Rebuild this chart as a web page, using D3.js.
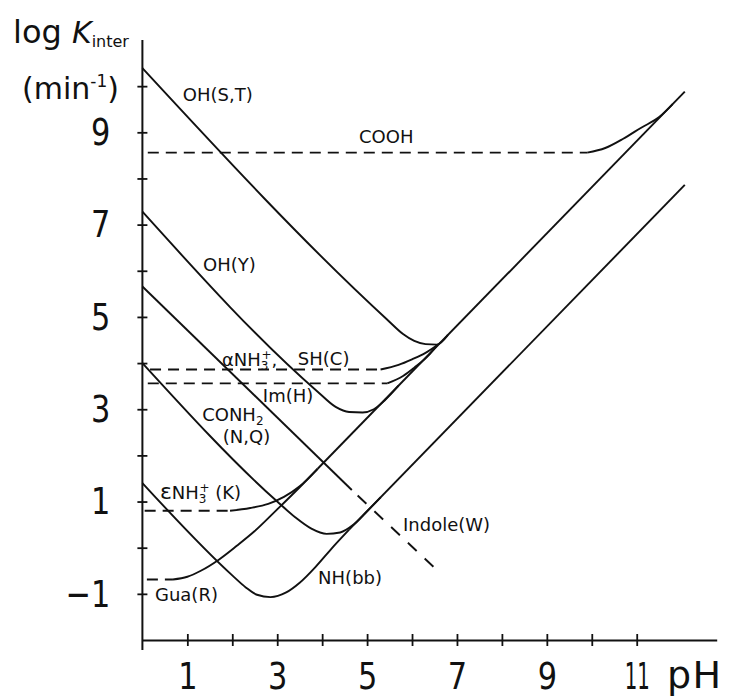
<!DOCTYPE html>
<html>
<head>
<meta charset="utf-8">
<script src="https://cdn.jsdelivr.net/npm/d3@7"></script>
<style>
  body { margin: 0; background: #fff; }
  svg text { font-family: "DejaVu Sans", sans-serif; fill: #111; }
</style>
</head>
<body>
<div id="chart"></div>
<script>
// Side chain / backbone exchange rates vs pH (log K_inter, min^-1)
// every series is a list of [pH, logK] pairs

// tick positions and the labelled ones
var xTicks = [1, 2, 3, 4, 5, 6, 7, 8, 9, 10, 11];
var xTickLabels = [1, 3, 5, 7, 9, 11];
var yTicks = [-1, 0, 1, 2, 3, 4, 5, 6, 7, 8, 9, 10];
var yTickLabels = [-1, 1, 3, 5, 7, 9];

// solid curves
var ohST = [[0, 10.39], [5.45, 4.94], [5.8, 4.63], [6.05, 4.48], [6.3, 4.41], [6.55, 4.40], [6.8, 4.61]];
var ohY = [[0, 7.28], [3.9, 3.38], [4.3, 3.05], [4.6, 2.94], [4.9, 2.93], [5.15, 3.0], [5.4, 3.2], [5.7, 3.51]];
var indole = [[0, 5.66], [4.66, 1.25]];
var conh2 = [[0, 4.0], [3.0, 1.0], [3.4, 0.66], [3.75, 0.42], [4.1, 0.30], [4.4, 0.33], [4.7, 0.5], [5.0, 0.79], [5.3, 1.09]];
var nhBB = [[0, 1.40], [2.0, -0.6], [2.3, -0.86], [2.55, -1.02], [2.85, -1.07], [3.2, -0.97], [3.5, -0.76], [3.85, -0.42], [4.2, -0.03], [4.6, 0.39]];
var upperBase = [[3.9, 1.71], [12.07, 9.88]];
var lowerBase = [[4.6, 0.39], [12.07, 7.86]];

// groups with a flat (dashed) part and a rising (solid) part
var coohFlat = [[0.12, 8.56], [9.9, 8.56]];
var coohRise = [[9.9, 8.56], [10.3, 8.66], [10.7, 8.86], [11.1, 9.1], [11.5, 9.33], [11.8, 9.61]];
var aNH3Flat = [[0.17, 3.86], [5.3, 3.86]];
var aNH3Rise = [[5.3, 3.86], [5.7, 3.96], [6.0, 4.08], [6.3, 4.22], [6.55, 4.38]];
var imFlat = [[0.12, 3.56], [5.45, 3.56]];
var imRise = [[5.45, 3.56], [5.8, 3.72], [6.05, 3.9], [6.35, 4.15], [6.55, 4.38]];
var eNH3Flat = [[0.05, 0.80], [1.95, 0.80]];
var eNH3Rise = [[1.95, 0.80], [2.4, 0.86], [2.8, 0.95], [3.15, 1.1], [3.5, 1.33], [3.9, 1.71]];
var guaFlat = [[0.1, -0.69], [0.68, -0.69]];
var guaRise = [[0.68, -0.69], [1.0, -0.63], [1.3, -0.5], [1.7, -0.26], [2.1, 0.04], [2.5, 0.36], [3.0, 0.83], [3.5, 1.31], [3.9, 1.71]];
var indoleExtrap = [[4.66, 1.25], [6.55, -0.48]];

// Define SVG area dimensions
var svgWidth = 731;
var svgHeight = 697;

var chartMargin = {
  top: 40,
  right: 14.3,
  bottom: 57,
  left: 142.4
};

var chartWidth = svgWidth - chartMargin.left - chartMargin.right;
var chartHeight = svgHeight - chartMargin.top - chartMargin.bottom;

var root = d3.select("#chart")
  .append("svg")
    .attr("width", svgWidth)
    .attr("height", svgHeight);

var svg = root.append("g")
    .attr("transform", "translate(" + chartMargin.left + "," + chartMargin.top + ")");

var x = d3.scaleLinear().domain([0, 12.78]).range([0, chartWidth]);
var y = d3.scaleLinear().domain([-2, 11]).range([chartHeight, 0]);

// squeeze the big tick digits, the original face is condensed
function condense(sel) {
  sel.each(function() {
    var s = this.textContent;
    if (!s) return;
    var k = s === "11" ? 0.52 : 0.8;
    var w = this.getComputedTextLength();
    d3.select(this).attr("textLength", w * k).attr("lengthAdjust", "spacingAndGlyphs");
  });
}

function tickText(labels) {
  return function(d) {
    if (labels.indexOf(d) < 0) return "";
    return d < 0 ? "\u2212" + Math.abs(d) : "" + d;
  };
}

// X axis
var xAxis = svg.append("g")
    .attr("transform", "translate(0," + chartHeight + ")")
    .call(d3.axisBottom(x)
      .tickValues(xTicks)
      .tickSize(6)
      .tickSizeOuter(0)
      .tickPadding(16)
      .tickFormat(tickText(xTickLabels)));
xAxis.select(".domain").attr("stroke-width", 2).attr("stroke", "#111");
xAxis.selectAll(".tick line").attr("y1", -6).attr("y2", 6).attr("stroke-width", 1.8).attr("stroke", "#111");
xAxis.selectAll(".tick text")
    .attr("font-size", 38)
    .attr("font-family", "Liberation Sans, Arial, sans-serif")
    .call(condense);

// Y axis (the line itself runs a bit below the pH axis)
var yAxis = svg.append("g")
    .call(d3.axisLeft(y)
      .tickValues(yTicks)
      .tickSize(5)
      .tickSizeOuter(0)
      .tickPadding(27)
      .tickFormat(tickText(yTickLabels)));
yAxis.select(".domain").remove();
yAxis.selectAll(".tick line").attr("x1", -5).attr("x2", 5).attr("stroke-width", 1.8).attr("stroke", "#111");
yAxis.selectAll(".tick text")
    .attr("font-size", 38)
    .attr("font-family", "Liberation Sans, Arial, sans-serif")
    .call(condense);
svg.append("line")
    .attr("x1", x(0)).attr("x2", x(0))
    .attr("y1", y(11)).attr("y2", chartHeight + 10)
    .attr("stroke", "#111").attr("stroke-width", 2);

// curves
var line = d3.line()
    .x(function(d) { return x(d[0]); })
    .y(function(d) { return y(d[1]); })
    .curve(d3.curveMonotoneX);

var solid = [ohST, ohY, indole, conh2, nhBB, upperBase, lowerBase,
             coohRise, aNH3Rise, imRise, eNH3Rise, guaRise];
var dashed = [coohFlat, aNH3Flat, imFlat, eNH3Flat, guaFlat];

svg.append("g").selectAll("path")
    .data(solid)
    .enter()
    .append("path")
      .attr("d", line)
      .attr("fill", "none")
      .attr("stroke", "#111")
      .attr("stroke-width", 1.9);

svg.append("g").selectAll("path")
    .data(dashed)
    .enter()
    .append("path")
      .attr("d", line)
      .attr("fill", "none")
      .attr("stroke", "#111")
      .attr("stroke-width", 1.9)
      .attr("stroke-dasharray", "11,7");

svg.append("path")
    .datum(indoleExtrap)
    .attr("d", line)
    .attr("fill", "none")
    .attr("stroke", "#111")
    .attr("stroke-width", 1.9)
    .attr("stroke-dasharray", "12,11")
    .attr("stroke-dashoffset", 23 - 8);

// curve labels, pieces can be sub / sup
function addLabel(pH, logK, pieces) {
  var t = svg.append("text")
      .attr("x", x(pH))
      .attr("y", y(logK))
      .attr("font-size", 18);
  var shift = 0;
  pieces.forEach(function(p) {
    var target = p.pos === "sub" ? 4 : (p.pos === "sup" ? -7 : 0);
    var s = t.append("tspan").text(p.text).attr("dy", target - shift);
    shift = target;
    if (p.pos) s.attr("font-size", 12);
    if (p.size) s.attr("font-size", p.size);
    if (p.dx) s.attr("dx", p.dx);
  });
}

addLabel(0.90, 9.68, [{text: "OH(S,T)"}]);
addLabel(4.82, 8.77, [{text: "COOH"}]);
addLabel(1.35, 6.0, [{text: "OH(Y)"}]);
addLabel(1.77, 3.94, [{text: "αNH"}, {text: "3", pos: "sub"}, {text: "+", pos: "sup", dx: -7}, {text: ","}]);
addLabel(3.46, 3.96, [{text: "SH(C)"}]);
addLabel(2.68, 3.16, [{text: "Im(H)"}]);
addLabel(1.33, 2.74, [{text: "CONH"}, {text: "2", pos: "sub"}]);
addLabel(1.79, 2.27, [{text: "(N,Q)"}]);
addLabel(0.39, 1.06, [{text: "ε", size: 22}, {text: "NH"}, {text: "3", pos: "sub"}, {text: "+", pos: "sup", dx: -7}, {text: " (K)"}]);
addLabel(5.80, 0.36, [{text: "Indole(W)"}]);
addLabel(3.91, -0.79, [{text: "NH(bb)"}]);
addLabel(0.28, -1.15, [{text: "Gua(R)"}]);

// axis titles
var yTitle = root.append("text")
    .attr("x", 13)
    .attr("y", 43)
    .attr("font-size", 32);
yTitle.append("tspan").text("log ");
yTitle.append("tspan").text("K").attr("font-style", "italic").attr("font-size", 30);
yTitle.append("tspan").text("inter").attr("font-size", 16).attr("dy", 4);

var unit = root.append("text")
    .attr("x", 22)
    .attr("y", 99)
    .attr("font-size", 30);
unit.append("tspan").text("(min");
unit.append("tspan").text("-1").attr("font-size", 17).attr("dy", -12);
unit.append("tspan").text(")").attr("dy", 12);

root.append("text")
    .attr("x", 667)
    .attr("y", 688)
    .attr("font-size", 38)
    .attr("letter-spacing", 1.5)
    .text("pH");
</script>
</body>
</html>
